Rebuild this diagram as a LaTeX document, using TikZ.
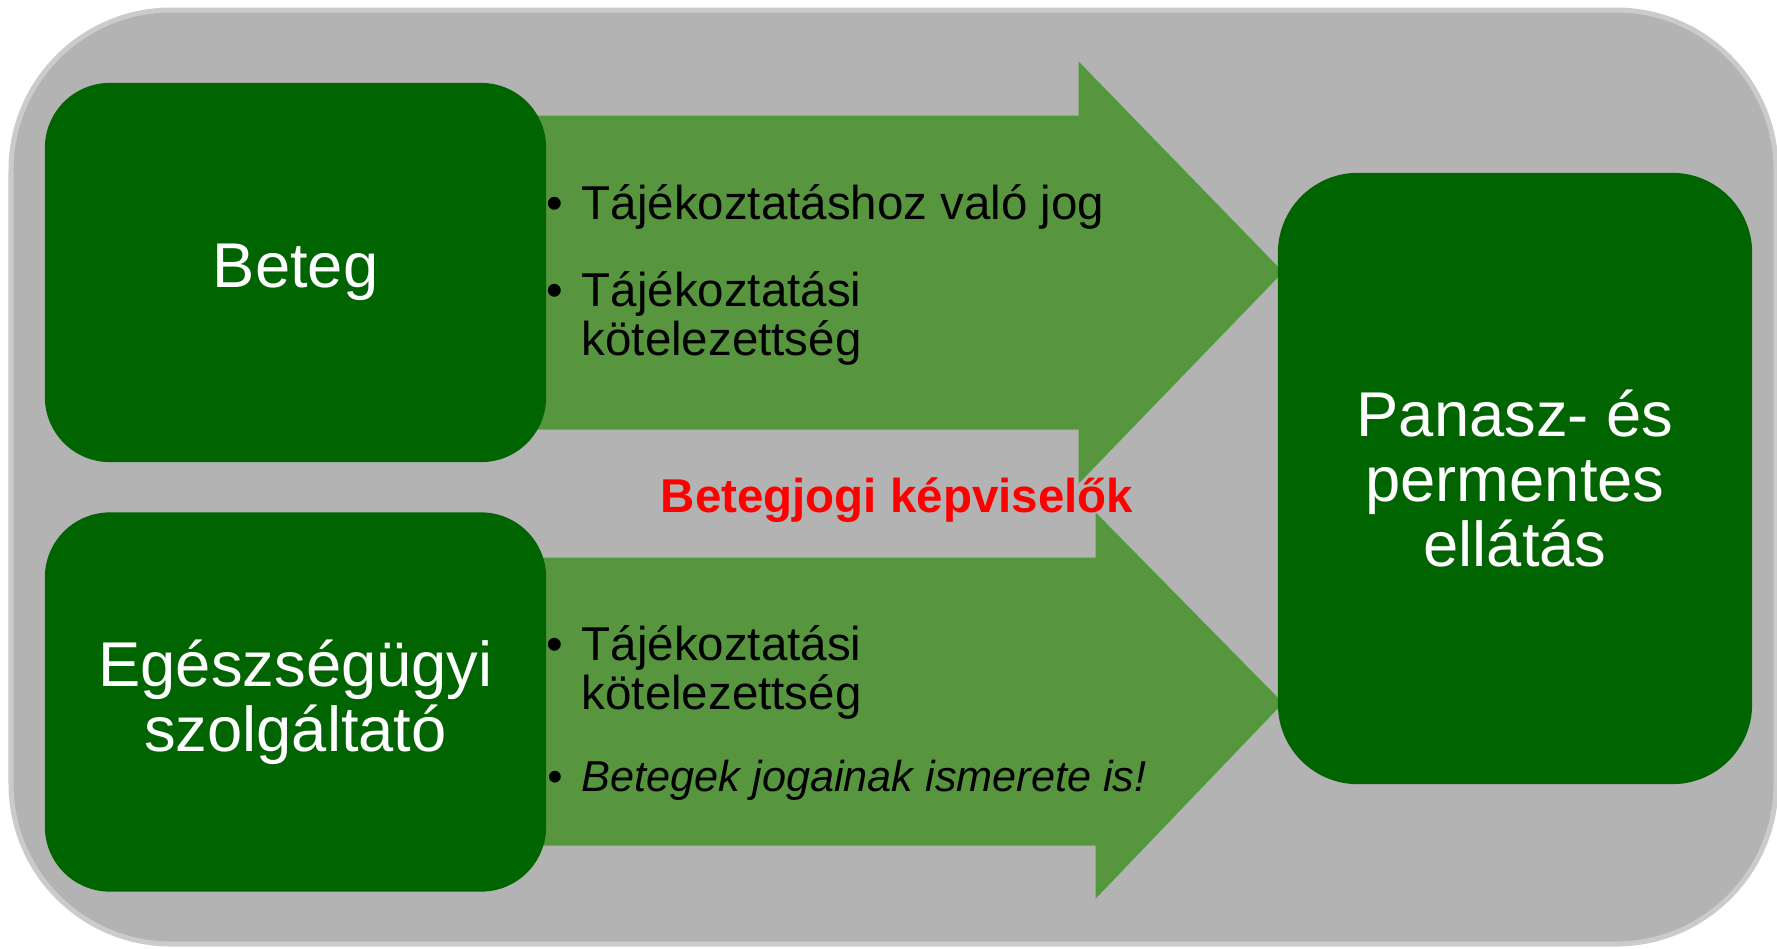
\documentclass[tikz,border=0pt]{standalone}
\usepackage{fontspec}
\setmainfont{Liberation Sans}
\usetikzlibrary{positioning}
\definecolor{framefill}{HTML}{B3B3B3}
\definecolor{frameline}{HTML}{CBCBCB}
\definecolor{boxgreen}{HTML}{006400}
\definecolor{arrowgreen}{HTML}{57953F}
\definecolor{arrowline}{HTML}{509A3A}
\newcommand{\pont}{\llap{\textbullet\hspace{0.19cm}}}
\begin{document}
\begin{tikzpicture}[x=0.01cm,y=-0.01cm,
        party/.style={fill=boxgreen,text=white,align=center,rounded corners=0.65cm,
                      minimum width=5.01cm,minimum height=3.79cm,
                      font=\fontsize{18}{18.4}\selectfont},
        bigarrow/.style={fill=arrowgreen,draw=arrowline,line width=0.03cm},
        item/.style={anchor=base west,align=left,inner sep=0pt,
                     font=\fontsize{13.5}{13.9}\selectfont}]
                \useasboundingbox (0,0) rectangle (1777,948);
                \draw[frameline,fill=framefill,line width=0.05cm,rounded corners=1.6cm] (11,10) rectangle (1776,944);
                % arrows
                \draw[bigarrow] (500,117) -- (1080,117) -- (1080,65) -- (1281,272) -- (1080,480) -- (1080,428) -- (500,428) -- cycle;
                \draw[bigarrow] (500,559) -- (1097,559) -- (1097,516) -- (1281,703) -- (1097,895) -- (1097,844) -- (500,844) -- cycle;
                % boxes
                \node[party] (beteg) at (295.5,272.5) {Beteg};
                \node[party] (szolg) at (295.5,702) {Egészségügyi\\szolgáltató};
                \node[party,rounded corners=0.8cm,minimum width=4.74cm,minimum height=6.11cm] (panasz) at (1515,478.5) {Panasz- és\\permentes\\ellátás};
                % bullet texts (base = last line)
                \node[item] (jog) at (581,219) {\pont Tájékoztatáshoz való jog};
                \node[item] (kot1) at (581,355) {\pont Tájékoztatási\\kötelezettség};
                \node[item] (kot2) at (581,709) {\pont Tájékoztatási\\kötelezettség};
                \node[item,font=\fontsize{12.3}{13.9}\selectfont\itshape] (ism) at (581,791) {\pont Betegek jogainak ismerete is!};
                \node[anchor=base,text=red,inner sep=0pt,font=\fontsize{13.5}{13.9}\selectfont\bfseries] (kepv) at (897,512) {Betegjogi képviselők};
            \end{tikzpicture}
\end{document}
